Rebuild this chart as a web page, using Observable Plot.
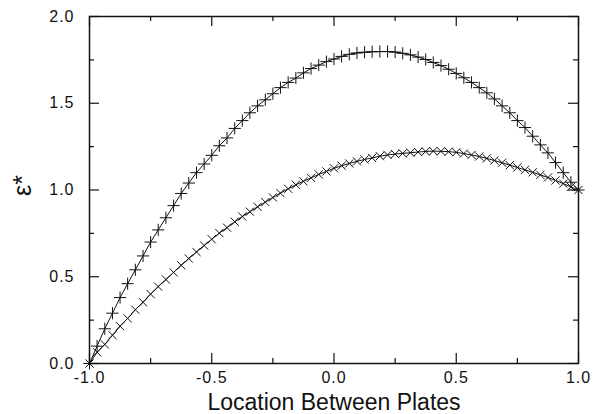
<!DOCTYPE html>
<html><head><meta charset="utf-8">
<script src="https://cdn.jsdelivr.net/npm/d3@7"></script>
<script src="https://cdn.jsdelivr.net/npm/@observablehq/plot@0.6"></script>
<style>
html,body{margin:0;padding:0;background:#fff;}
#chart{width:596px;height:414px;}
g[aria-label="x-axis tick label"] text, g[aria-label="y-axis tick label"] text{letter-spacing:1px;}
</style></head><body><div id="chart"></div>
<script>
// Location between plates (marker positions)
const xLoc = [-1.0,-0.969,-0.9375,-0.906,-0.875,-0.844,-0.8125,-0.781,-0.75,-0.719,-0.6875,-0.656,-0.625,-0.594,-0.5625,-0.531,
  -0.5,-0.469,-0.4375,-0.406,-0.375,-0.344,-0.3125,-0.281,-0.25,-0.219,-0.1875,-0.156,-0.125,-0.094,-0.0625,-0.031,
  0.0,0.031,0.0625,0.094,0.125,0.156,0.1875,0.219,0.25,0.281,0.3125,0.344,0.375,0.406,0.4375,0.469,
  0.5,0.531,0.5625,0.594,0.625,0.656,0.6875,0.719,0.75,0.781,0.8125,0.844,0.875,0.906,0.9375,0.969,1.0];
// upper curve ("+" markers)
const epsPlus = [0.000,0.10,0.20,0.29,0.38,0.46,0.54,0.62,0.70,0.77,0.84,0.91,0.98,1.04,1.10,1.15,
  1.20,1.255,1.30,1.355,1.40,1.445,1.485,1.52,1.555,1.59,1.62,1.645,1.675,1.70,1.72,1.74,
  1.755,1.77,1.782,1.79,1.794,1.797,1.798,1.798,1.795,1.788,1.779,1.766,1.752,1.735,1.717,1.696,
  1.672,1.647,1.62,1.59,1.56,1.525,1.485,1.445,1.40,1.36,1.31,1.26,1.214,1.158,1.10,1.045,1.00];
// lower curve ("x" markers)
const epsTimes = [0.000,0.065,0.11,0.163,0.215,0.26,0.31,0.353,0.40,0.443,0.484,0.525,0.566,0.605,0.643,0.68,
  0.716,0.752,0.783,0.817,0.847,0.875,0.903,0.93,0.957,0.982,1.007,1.03,1.05,1.07,1.09,1.107,
  1.125,1.14,1.153,1.165,1.176,1.185,1.195,1.202,1.207,1.211,1.215,1.219,1.222,1.224,1.223,1.221,
  1.217,1.21,1.202,1.193,1.182,1.17,1.157,1.143,1.13,1.116,1.102,1.087,1.072,1.055,1.037,1.018,1.0];
const xMajor = [-1.0,-0.5,0.0,0.5,1.0];
const xMinor = [-0.75,-0.25,0.25,0.75];
const yMajor = [0.0,0.5,1.0,1.5,2.0];
const yMinor = [0.25,0.75,1.25,1.75];
const xTitle = "Location Between Plates";
const yTitle = "ε*";

const W = 596, H = 414, mL = 89, mR = 18, mT = 16, mB = 51;
const fw = W - mL - mR, fh = H - mT - mB;
const majorLen = 10, minorLen = 5;

const rowsPlus = xLoc.map((x, i) => ({x, y: epsPlus[i]}));
const rowsTimes = xLoc.map((x, i) => ({x, y: epsTimes[i]}));
const ink = "#111";
const fmt = d => d.toFixed(1);

const chart = Plot.plot({
  width: W, height: H,
  marginLeft: mL, marginRight: mR, marginTop: mT, marginBottom: mB,
  style: {fontFamily: "'Liberation Sans', Arial, sans-serif", background: "white", color: ink},
  x: {domain: [-1, 1], label: null},
  y: {domain: [0, 2], label: null},
  marks: [
    Plot.line(rowsPlus, {x: "x", y: "y", stroke: ink, strokeWidth: 1}),
    Plot.line(rowsTimes, {x: "x", y: "y", stroke: ink, strokeWidth: 1}),
    Plot.dot(rowsPlus, {x: "x", y: "y", symbol: "plus", r: 4.0, stroke: ink, strokeWidth: 1}),
    Plot.dot(rowsTimes, {x: "x", y: "y", symbol: "times", r: 3.8, stroke: ink, strokeWidth: 1}),
    // inward ticks on all four sides
    Plot.tickX(xMajor, {x: d => d, insetTop: fh - majorLen, stroke: ink, strokeWidth: 1.2}),
    Plot.tickX(xMajor, {x: d => d, insetBottom: fh - majorLen, stroke: ink, strokeWidth: 1.2}),
    Plot.tickX(xMinor, {x: d => d, insetTop: fh - minorLen, stroke: ink, strokeWidth: 1.2}),
    Plot.tickX(xMinor, {x: d => d, insetBottom: fh - minorLen, stroke: ink, strokeWidth: 1.2}),
    Plot.tickY(yMajor, {y: d => d, insetRight: fw - majorLen, stroke: ink, strokeWidth: 1.2}),
    Plot.tickY(yMajor, {y: d => d, insetLeft: fw - majorLen, stroke: ink, strokeWidth: 1.2}),
    Plot.tickY(yMinor, {y: d => d, insetRight: fw - minorLen, stroke: ink, strokeWidth: 1.2}),
    Plot.tickY(yMinor, {y: d => d, insetLeft: fw - minorLen, stroke: ink, strokeWidth: 1.2}),
    Plot.frame({stroke: ink, strokeWidth: 1.5}),
    Plot.axisX(xMajor, {anchor: "bottom", tickSize: 0, tickPadding: 8, tickFormat: fmt, fontSize: 16, label: null}),
    Plot.axisY(yMajor, {anchor: "left", tickSize: 0, tickPadding: 15, tickFormat: fmt, fontSize: 16, label: null}),
    Plot.text([xTitle], {text: d => d, frameAnchor: "bottom", dy: 46, fontSize: 23, fill: ink}),
    Plot.text([yTitle], {text: d => d, frameAnchor: "left", dx: -67, dy: 6, rotate: -90, fontSize: 25, fill: ink})
  ]
});
document.getElementById("chart").appendChild(chart);
</script></body></html>
